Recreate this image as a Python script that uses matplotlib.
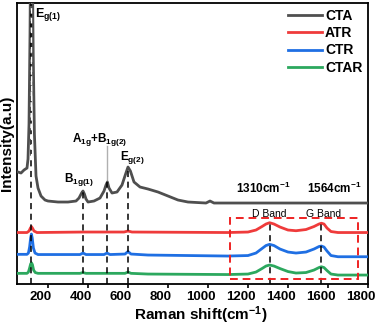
import matplotlib
matplotlib.use('Agg')
import matplotlib.pyplot as plt
from matplotlib.patches import Rectangle
from matplotlib.transforms import ScaledTranslation

plt.rcParams['font.family'] = ['Liberation Sans', 'DejaVu Sans']
plt.rcParams['font.weight'] = 'bold'
plt.rcParams['mathtext.fontset'] = 'custom'
plt.rcParams['mathtext.rm'] = 'Liberation Sans:bold'
plt.rcParams['mathtext.it'] = 'Liberation Sans:bold'
plt.rcParams['mathtext.bf'] = 'Liberation Sans:bold'

# Raman spectra (arbitrary intensity, stacked offsets)
cta_shift = [50, 65, 80, 95, 100, 105, 110, 113, 117, 121, 126, 132, 140, 150, 165,
             185, 200, 250, 300, 340, 355, 368, 375, 382, 390, 400, 430, 460, 480,
             490, 497, 505, 520, 545, 570, 588, 600, 612, 630, 660, 700, 750, 800,
             850, 900, 990, 1010, 1030, 1100, 1300, 1500, 1700, 1800]
cta_int = [112, 111, 114, 116, 125, 160, 250, 330, 370, 330, 230, 150, 108, 96, 88,
           84, 83, 82, 82, 83, 86, 91, 93, 90, 85, 82, 83, 86, 93,
           99, 102, 96, 91, 92, 99, 110, 117, 113, 102, 97, 95, 92, 88,
           84, 82, 81, 83, 81, 81, 81, 81, 81, 81]

atr_shift = [50, 95, 105, 112, 117, 122, 130, 145, 375, 495, 580, 600, 620, 1100,
             1200, 1240, 1270, 1290, 1308, 1330, 1360, 1400, 1440, 1490, 1530,
             1555, 1567, 1580, 1595, 1615, 1650, 1800]
atr_int = [51.5, 51.5, 53, 56, 57.5, 56, 53, 51.5, 52, 52, 52, 53, 52, 51.5,
           52, 54, 57.5, 60, 61.3, 60, 57, 54, 53.3, 54.5, 57.5,
           60, 60.8, 60, 56, 52.5, 51.5, 51.5]

ctr_shift = [50, 95, 102, 108, 113, 117, 121, 127, 135, 150, 360, 375, 390, 480,
             495, 510, 585, 600, 615, 700, 1100, 1200, 1240, 1270, 1290, 1308,
             1330, 1360, 1400, 1440, 1490, 1530, 1555, 1567, 1580, 1595, 1615,
             1650, 1800]
ctr_int = [29.7, 29.7, 31, 37, 46, 50, 46, 36, 31, 29.5, 29.5, 31, 29.5, 29.5,
           31, 29.5, 30, 32.5, 30, 29, 28, 28.5, 31, 35.5, 38.5, 39.7,
           38.5, 35, 32, 31, 32, 35, 37.5, 38, 37, 33, 28.5, 27.3, 27.3]

ctar_shift = [50, 95, 102, 108, 113, 117, 122, 128, 136, 150, 360, 375, 390, 585,
              600, 615, 700, 1100, 1200, 1240, 1270, 1290, 1308, 1330, 1360, 1400,
              1440, 1490, 1530, 1555, 1567, 1580, 1595, 1615, 1650, 1800]
ctar_int = [10.7, 10.7, 12, 16, 20, 21.3, 19.5, 14, 11.5, 10.7, 10.7, 11.5, 10.7, 10.7,
            12, 10.7, 10, 9.5, 10, 12, 15.5, 18, 19, 18, 15.5, 12.5,
            11, 11.5, 14, 16.5, 17.3, 16.5, 13.5, 10, 9, 9]

series = [('CTA', cta_shift, cta_int, '#4f4f4f'),
          ('ATR', atr_shift, atr_int, '#ef3b3b'),
          ('CTR', ctr_shift, ctr_int, '#1f6fe3'),
          ('CTAR', ctar_shift, ctar_int, '#2ca85e')]

# peak markers: position and height of the dashed guide
peak_pos = [117, 375, 497, 600, 1308, 1567]
peak_top = [281, 93, 102, 117, 61, 61]

fig = plt.figure(figsize=(3.78, 3.28), dpi=100)
ax = fig.add_axes([0.045, 0.134, 0.9285, 0.857])

for name, xs, ys, c in series:
    ax.plot(xs, ys, color=c, lw=2.0, label=name, zorder=3)

for p, t in zip(peak_pos, peak_top):
    ax.plot([p, p], [0, t], color='black', lw=1.1, ls=(0, (4, 3)), zorder=4)
# inside the tall CTA peak the guide shows up light
ax.plot([117, 117], [125, 281], color='white', lw=1.0, ls=(0, (4, 3)), zorder=4.5)
ax.plot([497, 497], [102, 138], color='#b0b0b0', lw=1.0, zorder=2)

ax.add_patch(Rectangle((1111, 5), 640, 61.3, fill=False, ec='#ee2222',
                       lw=1.4, ls=(0, (4, 2.5)), zorder=5))

ax.text(136, 278, r'$E_{g(1)}$', fontsize=9, va='top', ha='left')
ax.text(457, 136, r'$A_{1g}$+$B_{1g(2)}$', fontsize=8.5, va='bottom', ha='center')
ax.text(623, 118, r'$E_{g(2)}$', fontsize=8.5, va='bottom', ha='center')
ax.text(357, 96, r'$B_{1g(1)}$', fontsize=8.5, va='bottom', ha='center')
ax.text(1276, 88, r'1310cm$^{-1}$', fontsize=8.5, va='bottom', ha='center')
ax.text(1631, 88, r'1564cm$^{-1}$', fontsize=8.5, va='bottom', ha='center')
ax.text(1304, 70.5, 'D Band', fontsize=7.5, fontweight='normal', va='center', ha='center')
ax.text(1576, 70.5, 'G Band', fontsize=7.5, fontweight='normal', va='center', ha='center')

ax.set_xlim(45, 1800)
ax.set_ylim(0, 281)
ax.set_xticks([200, 400, 600, 800, 1000, 1200, 1400, 1600, 1800])
ax.set_yticks([])
ax.tick_params(axis='x', direction='out', length=3, width=1.2, labelsize=9.5, pad=2)
# tick labels in the source sit a little left of their ticks
shift = ScaledTranslation(-7 / 100, 0, fig.dpi_scale_trans)
for lab in ax.get_xticklabels():
    lab.set_transform(lab.get_transform() + shift)
for s in ax.spines.values():
    s.set_linewidth(1.3)

ax.set_xlabel(r'Raman shift(cm$^{-1}$)', fontsize=11, fontweight='bold')
ax.xaxis.set_label_coords(0.523, -0.074)
ax.set_ylabel('Intensity(a.u)', fontsize=11, fontweight='bold', labelpad=2)

ax.legend(loc='upper right', frameon=False, fontsize=10, handlelength=2.5,
          handletextpad=0.2, labelspacing=0.25, borderaxespad=0.2, borderpad=0.2)

fig.savefig('out.png', dpi=100)
